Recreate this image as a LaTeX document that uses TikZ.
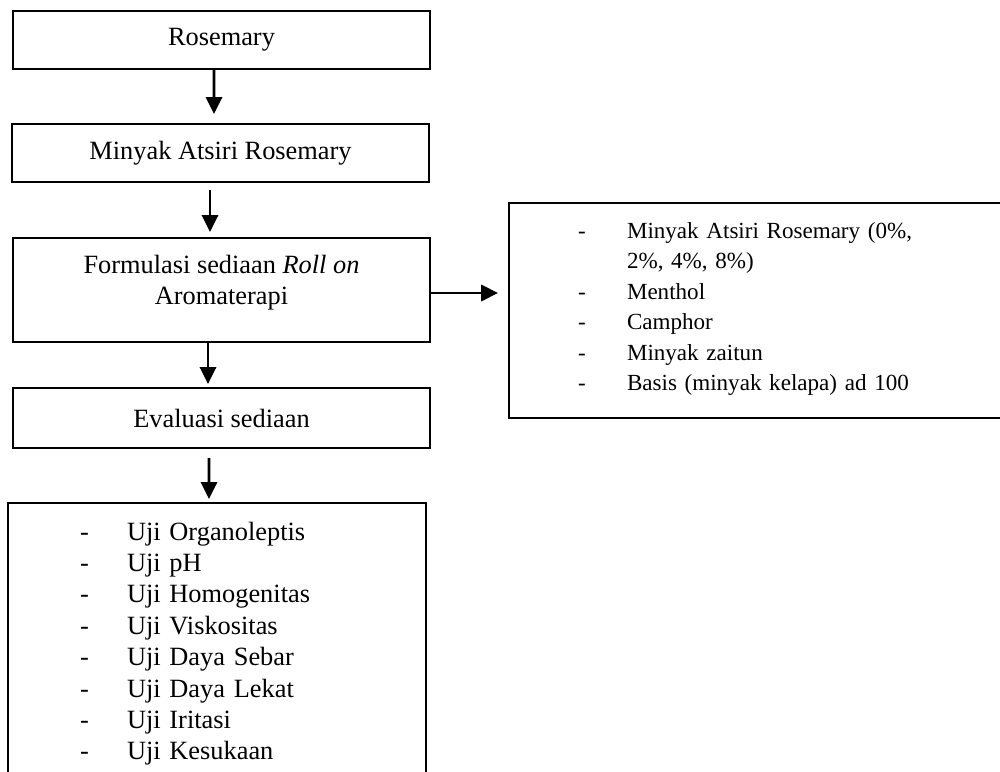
\documentclass[tikz,border=0pt]{standalone}
\usepackage{fontspec}
\setmainfont{Liberation Serif}
\usetikzlibrary{shapes,arrows.meta}

\begin{document}
\begin{tikzpicture}[>={Triangle[width=0.26cm,length=0.27cm]}, font=\fontsize{12}{14.3}\selectfont]

  \useasboundingbox (0,0) rectangle (16,-12.336);

  \draw (3.544,-0.64) node (rose) [line width=1pt, rectangle, minimum height=0.928cm, minimum width=6.672cm, draw] {Rosemary};
  \draw (3.528,-2.448) node (oil) [line width=1pt, rectangle, minimum height=0.928cm, minimum width=6.672cm, draw] {Minyak Atsiri Rosemary};
  \draw (3.544,-4.64) node (form) [line width=1pt, rectangle, minimum width=6.672cm, inner ysep=0pt, text height=0.56cm, text depth=1.104cm, draw] {\begin{tabular}[t]{@{}c@{}}Formulasi sediaan \textit{Roll on}\\ Aromaterapi\end{tabular}};
  \draw (3.544,-6.688) node (eval) [line width=1pt, rectangle, minimum height=0.96cm, minimum width=6.672cm, draw] {Evaluasi sediaan};

  \draw (12.122,-4.968) node (mix) [line width=1pt, rectangle, text width=5.748cm, align=left, inner xsep=1.104cm, inner ysep=0pt, text height=0.56cm, text depth=2.88cm, font=\fontsize{10.5}{13.9}\selectfont, draw] {\begin{tabular}[t]{@{}p{0.784cm}@{}l@{}}
    - & Minyak Atsiri Rosemary (0\%,\\
      & 2\%, 4\%, 8\%)\\
    - & Menthol\\
    - & Camphor\\
    - & Minyak zaitun\\
    - & Basis (minyak kelapa) ad 100
  \end{tabular}};

  \draw (3.472,-10.344) node (tests) [line width=1pt, rectangle, text width=4.384cm, align=left, inner xsep=1.152cm, inner ysep=0pt, text height=0.592cm, text depth=4.0cm, draw] {\begin{tabular}[t]{@{}p{0.752cm}@{}l@{}}
    - & Uji Organoleptis\\
    - & Uji pH\\
    - & Uji Homogenitas\\
    - & Uji Viskositas\\
    - & Uji Daya Sebar\\
    - & Uji Daya Lekat\\
    - & Uji Iritasi\\
    - & Uji Kesukaan
  \end{tabular}};

  \coordinate (mixin) at (7.968,-4.688);

  \draw[->, line width=1.2pt, ] ([xshift=-0.12cm]rose.south) -- ([xshift=-0.104cm,yshift=0.144cm]oil.north);
  \draw[->, line width=1.2pt, ] ([xshift=-0.168cm,yshift=-0.112cm]oil.south) -- ([xshift=-0.184cm,yshift=0.08cm]form.north);
  \draw[->, line width=1.2pt, ] ([yshift=-0.048cm]form.east) -- (mixin);
  \draw[->, line width=1.2pt, ] ([xshift=-0.216cm]form.south) -- ([xshift=-0.216cm,yshift=0.048cm]eval.north);
  \draw[->, line width=1.2pt, ] ([xshift=-0.2cm,yshift=-0.144cm]eval.south) -- ([xshift=-0.128cm,yshift=0.048cm]tests.north);

\end{tikzpicture}
\end{document}
